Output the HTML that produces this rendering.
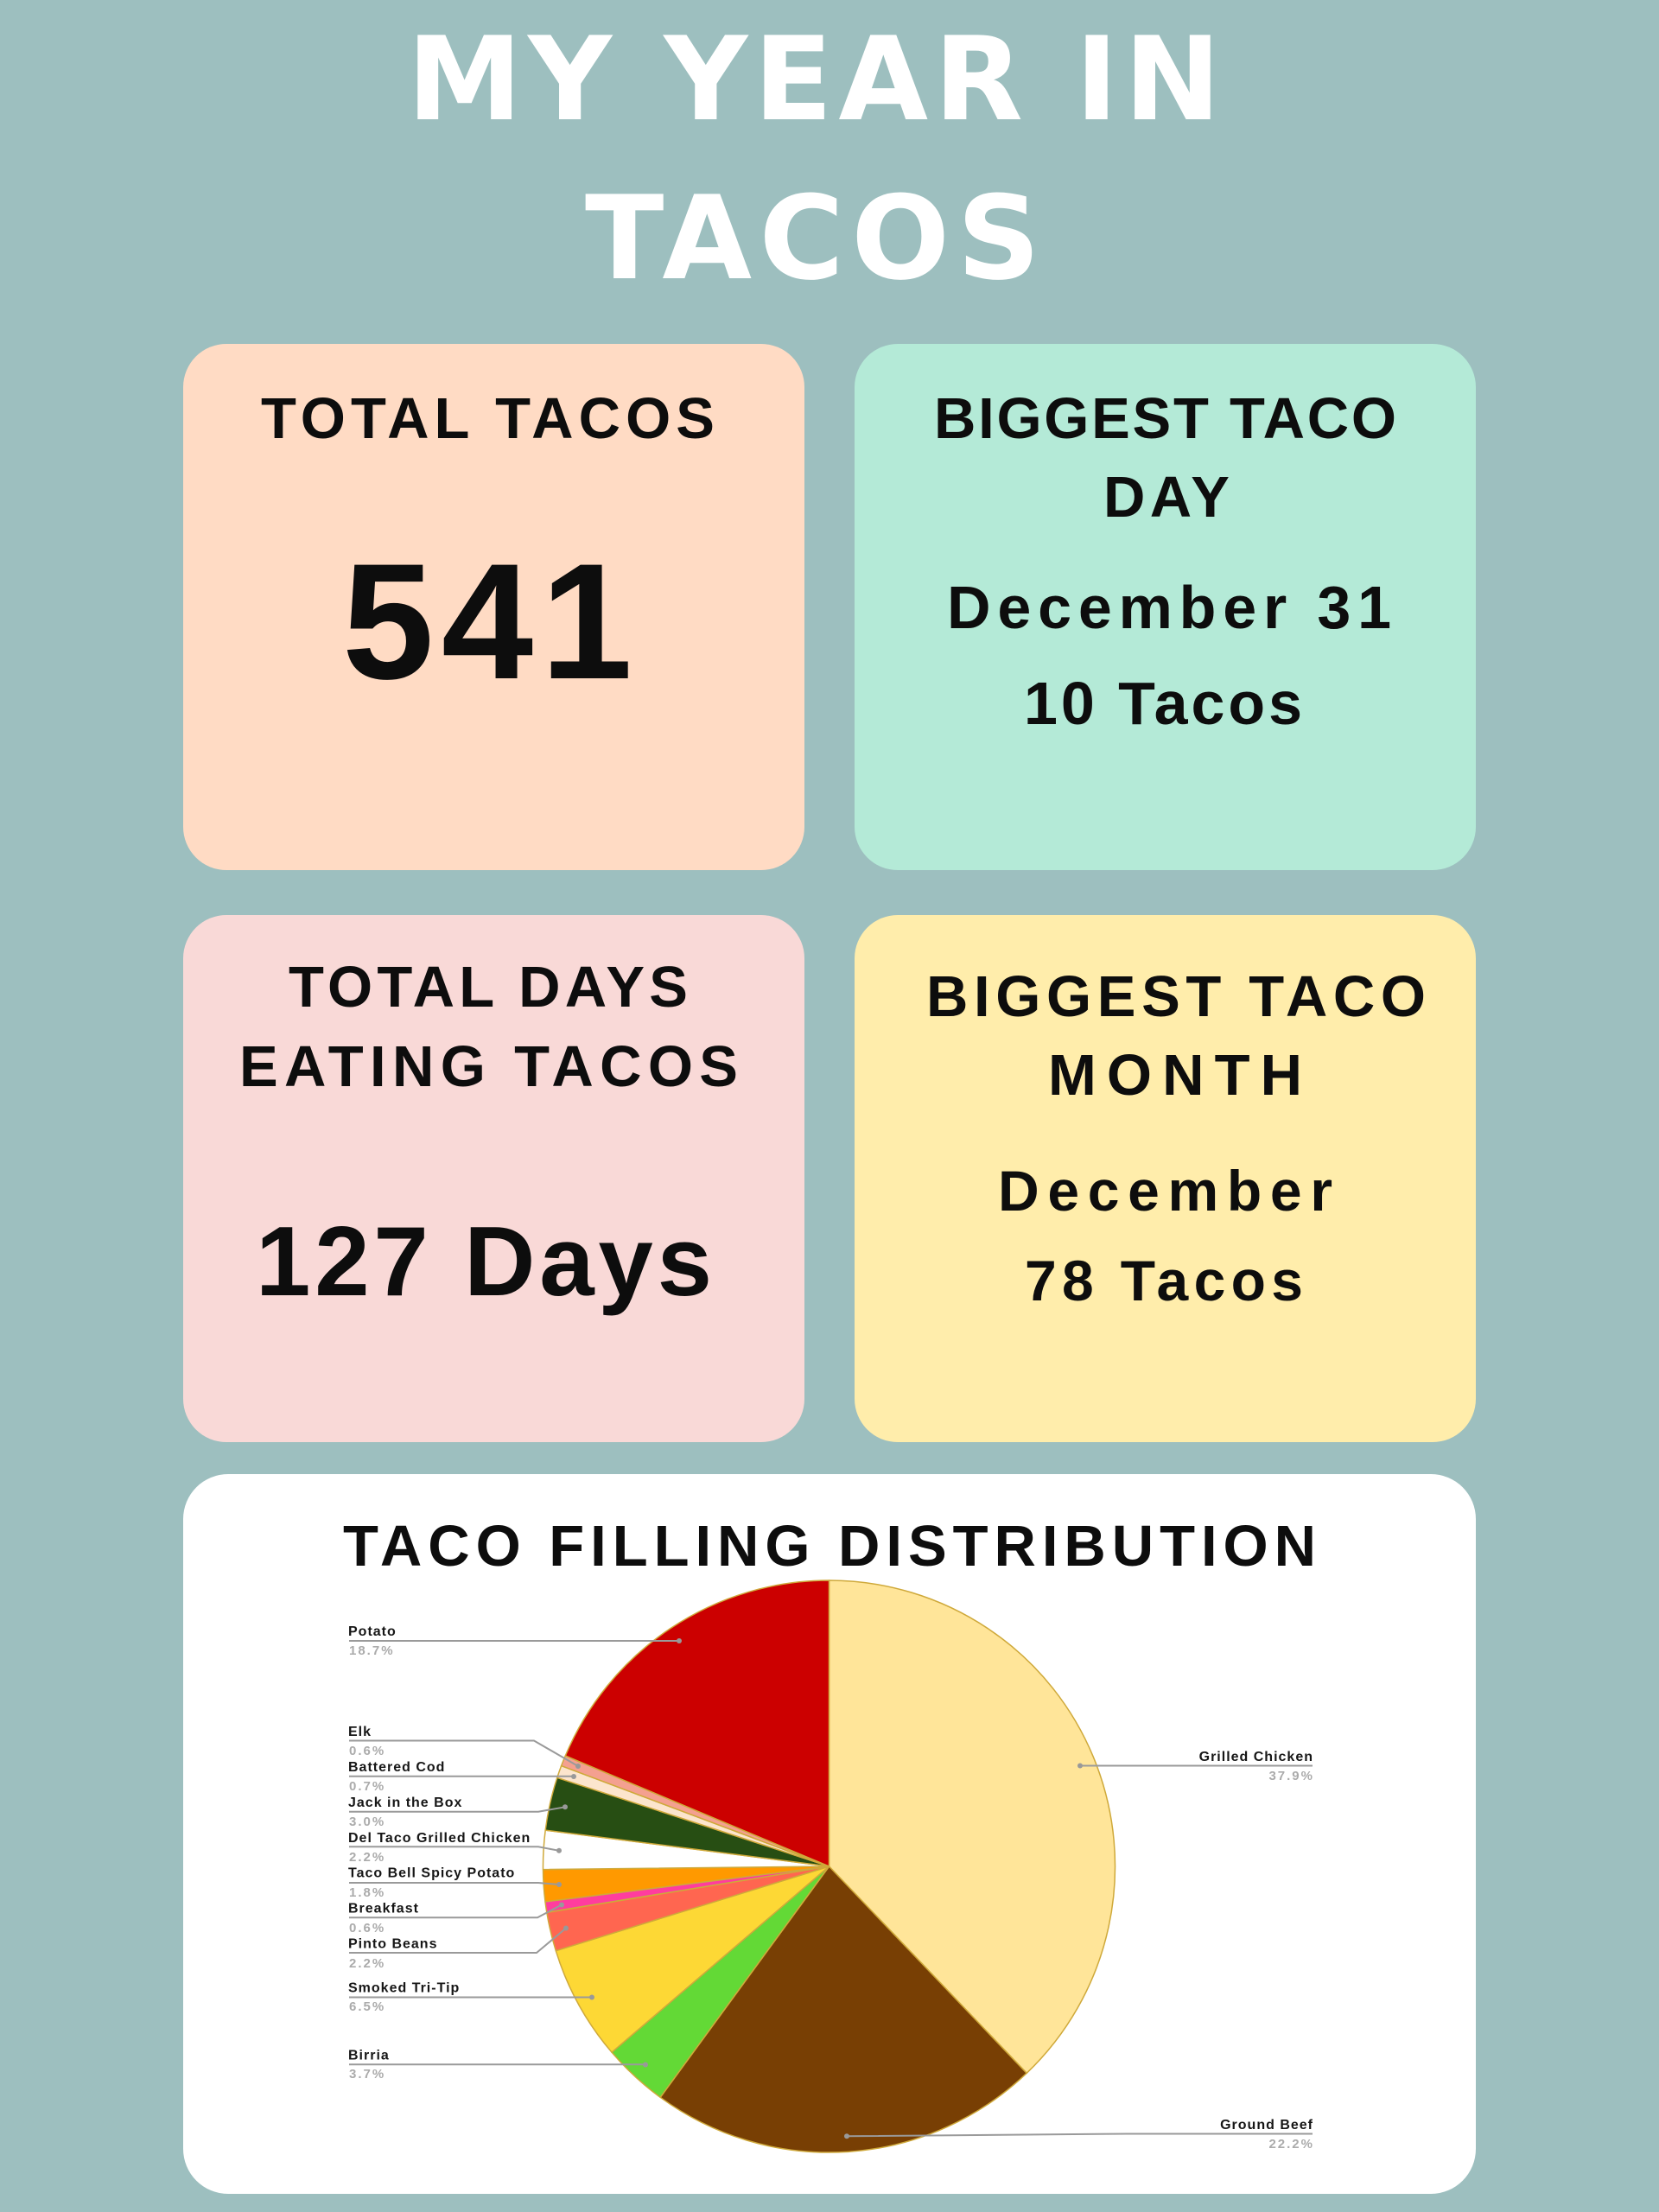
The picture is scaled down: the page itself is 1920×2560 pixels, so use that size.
<!DOCTYPE html>
<html>
<head>
<meta charset="utf-8">
<style>
html,body{margin:0;padding:0;background:#9dbfbf;}
svg{display:block;}
text{font-family:"Liberation Sans",Arial,sans-serif;}
.ttl{font-family:"DejaVu Sans","Liberation Sans",sans-serif;font-weight:bold;fill:#ffffff;}
.h{font-weight:bold;fill:#0d0d0d;}
.lbl{font-weight:bold;font-size:16px;letter-spacing:1px;fill:#161616;}
.pct{font-weight:bold;font-size:15px;letter-spacing:2px;fill:#ababab;}
</style>
</head>
<body>
<svg xmlns="http://www.w3.org/2000/svg" width="1920" height="2560" viewBox="0 0 1920 2560">
  <rect width="1920" height="2560" fill="#9dbfbf"/>

  <!-- Title -->
  <text class="ttl" x="471" y="138" font-size="134" textLength="942" lengthAdjust="spacing">MY YEAR IN</text>
  <text class="ttl" x="677" y="322" font-size="134" textLength="527" lengthAdjust="spacing">TACOS</text>

  <!-- Cards -->
  <rect x="212" y="398" width="719" height="609" rx="50" fill="#ffdbc4"/>
  <rect x="989" y="398" width="719" height="609" rx="50" fill="#b4ead7"/>
  <rect x="212" y="1059" width="719" height="610" rx="50" fill="#f9d9d7"/>
  <rect x="989" y="1059" width="719" height="610" rx="50" fill="#ffedab"/>
  <rect x="212" y="1706" width="1496" height="833" rx="52" fill="#ffffff"/>

  <!-- Card 1 -->
  <text class="h" x="302" y="507" font-size="67" textLength="525" lengthAdjust="spacing">TOTAL TACOS</text>
  <text class="h" x="396" y="785" font-size="191" textLength="336" lengthAdjust="spacing">541</text>

  <!-- Card 2 -->
  <text class="h" x="1081" y="507" font-size="67" textLength="535" lengthAdjust="spacing">BIGGEST TACO</text>
  <text class="h" x="1277" y="598" font-size="67" textLength="146" lengthAdjust="spacing">DAY</text>
  <text class="h" x="1096" y="727" font-size="70" textLength="514" lengthAdjust="spacing">December 31</text>
  <text class="h" x="1185" y="838" font-size="70" textLength="322" lengthAdjust="spacing">10 Tacos</text>

  <!-- Card 3 -->
  <text class="h" x="334" y="1165" font-size="67" textLength="462" lengthAdjust="spacing">TOTAL DAYS</text>
  <text class="h" x="277" y="1257" font-size="67" textLength="577" lengthAdjust="spacing">EATING TACOS</text>
  <text class="h" x="296" y="1499" font-size="114" textLength="528" lengthAdjust="spacing">127 Days</text>

  <!-- Card 4 -->
  <text class="h" x="1072" y="1176" font-size="67" textLength="578" lengthAdjust="spacing">BIGGEST TACO</text>
  <text class="h" x="1213" y="1267" font-size="67" textLength="294" lengthAdjust="spacing">MONTH</text>
  <text class="h" x="1155" y="1401" font-size="66" textLength="387" lengthAdjust="spacing">December</text>
  <text class="h" x="1186" y="1505" font-size="66" textLength="322" lengthAdjust="spacing">78 Tacos</text>

  <!-- Chart title -->
  <text class="h" x="397" y="1812" font-size="67" textLength="1126" lengthAdjust="spacing">TACO FILLING DISTRIBUTION</text>

  <!-- Pie -->
  <g stroke="#cfa93a" stroke-width="1.5" stroke-linejoin="round">
    <path d="M959.5,2160 L959.5,1829 A331,331 0 0 1 1188.2,2399.3 Z" fill="#ffe599"/>
    <path d="M959.5,2160 L1188.2,2399.3 A331,331 0 0 1 764.2,2427.3 Z" fill="#783f04"/>
    <path d="M959.5,2160 L764.2,2427.3 A331,331 0 0 1 708.0,2375.2 Z" fill="#63d936"/>
    <path d="M959.5,2160 L708.0,2375.2 A331,331 0 0 1 643.3,2257.7 Z" fill="#fdd835"/>
    <path d="M959.5,2160 L643.3,2257.7 A331,331 0 0 1 632.8,2213.3 Z" fill="#ff6650"/>
    <path d="M959.5,2160 L632.8,2213.3 A331,331 0 0 1 631.0,2200.9 Z" fill="#ff3d9e"/>
    <path d="M959.5,2160 L631.0,2200.9 A331,331 0 0 1 628.5,2163.6 Z" fill="#ff9900"/>
    <path d="M959.5,2160 L628.5,2163.6 A331,331 0 0 1 631.2,2118.1 Z" fill="#ffffff"/>
    <path d="M959.5,2160 L631.2,2118.1 A331,331 0 0 1 644.8,2057.3 Z" fill="#274e13"/>
    <path d="M959.5,2160 L644.8,2057.3 A331,331 0 0 1 649.6,2043.6 Z" fill="#fce5cd"/>
    <path d="M959.5,2160 L649.6,2043.6 A331,331 0 0 1 654.3,2032.0 Z" fill="#f4a090"/>
    <path d="M959.5,2160 L654.3,2032.0 A331,331 0 0 1 959.5,1829 Z" fill="#cc0000"/>
  </g>

  <!-- Leader lines -->
  <g stroke="#9a9a9a" stroke-width="2" fill="none">
    <path d="M404,1899 H786"/>
    <path d="M404,2014.5 H618 L669,2044"/>
    <path d="M404,2055.7 H664"/>
    <path d="M404,2096.7 H623 L654,2091.3"/>
    <path d="M404,2137.3 H623 L647,2141.8"/>
    <path d="M404,2179 H623 L647,2181"/>
    <path d="M404,2219.3 H622 L650,2204.5"/>
    <path d="M404,2260 H621 L655,2231.5"/>
    <path d="M404,2311.5 H685"/>
    <path d="M404,2389.3 H747"/>
    <path d="M1250,2043.5 H1519"/>
    <path d="M980,2472.3 L1305,2469.5 H1519"/>
  </g>
  <g fill="#999999">
    <circle cx="786" cy="1899" r="3"/>
    <circle cx="669" cy="2044" r="3"/>
    <circle cx="664" cy="2056" r="3"/>
    <circle cx="654" cy="2091.3" r="3"/>
    <circle cx="647" cy="2141.8" r="3"/>
    <circle cx="647" cy="2181" r="3"/>
    <circle cx="650" cy="2204.5" r="3"/>
    <circle cx="655" cy="2231.5" r="3"/>
    <circle cx="685" cy="2311.5" r="3"/>
    <circle cx="747" cy="2389.5" r="3"/>
    <circle cx="1250" cy="2043.5" r="3"/>
    <circle cx="980" cy="2472.3" r="3"/>
  </g>

  <!-- Left labels -->
  <text class="lbl" x="403" y="1893">Potato</text>
  <text class="pct" x="404" y="1915">18.7%</text>
  <text class="lbl" x="403" y="2009">Elk</text>
  <text class="pct" x="404" y="2031">0.6%</text>
  <text class="lbl" x="403" y="2050">Battered Cod</text>
  <text class="pct" x="404" y="2072">0.7%</text>
  <text class="lbl" x="403" y="2091">Jack in the Box</text>
  <text class="pct" x="404" y="2113">3.0%</text>
  <text class="lbl" x="403" y="2132">Del Taco Grilled Chicken</text>
  <text class="pct" x="404" y="2154">2.2%</text>
  <text class="lbl" x="403" y="2172.5">Taco Bell Spicy Potato</text>
  <text class="pct" x="404" y="2195">1.8%</text>
  <text class="lbl" x="403" y="2213.5">Breakfast</text>
  <text class="pct" x="404" y="2236">0.6%</text>
  <text class="lbl" x="403" y="2254.5">Pinto Beans</text>
  <text class="pct" x="404" y="2277">2.2%</text>
  <text class="lbl" x="403" y="2305.5">Smoked Tri-Tip</text>
  <text class="pct" x="404" y="2327">6.5%</text>
  <text class="lbl" x="403" y="2383.5">Birria</text>
  <text class="pct" x="404" y="2405">3.7%</text>

  <!-- Right labels -->
  <text class="lbl" x="1520" y="2038" text-anchor="end">Grilled Chicken</text>
  <text class="pct" x="1521" y="2060" text-anchor="end">37.9%</text>
  <text class="lbl" x="1520" y="2464" text-anchor="end">Ground Beef</text>
  <text class="pct" x="1521" y="2486" text-anchor="end">22.2%</text>
</svg>
</body>
</html>
